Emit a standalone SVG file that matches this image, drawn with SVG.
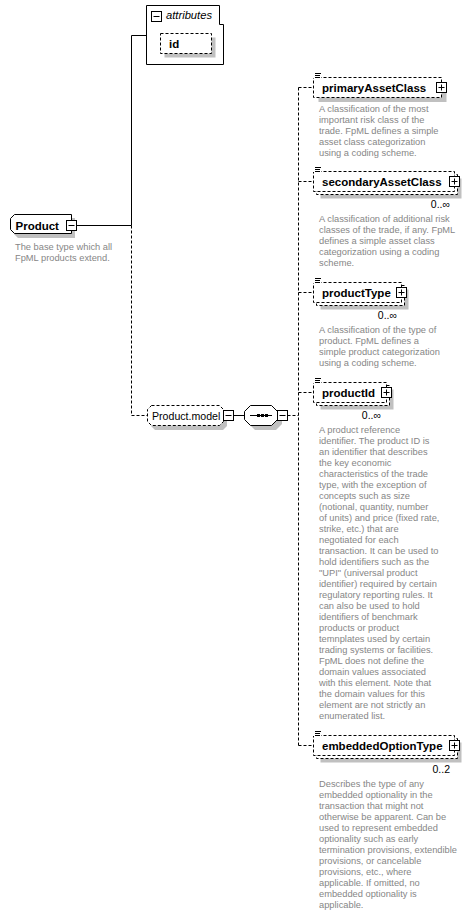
<svg xmlns="http://www.w3.org/2000/svg" width="473" height="916" viewBox="0 0 473 916">
<style>
.bg{fill:#fff}
.box{fill:#fff;stroke:#000;stroke-width:1}
.dash{stroke-dasharray:3,2}
.shadow{fill:#c0c0c0;stroke:none}
.ln{stroke:#000;stroke-width:1;fill:none}
.t{font-family:"Liberation Sans",Arial,sans-serif;fill:#000}
.title{font-weight:bold;font-size:11.5px}
.reg{font-size:10.6px}
.ital{font-style:italic;font-size:11.2px}
.card{font-size:10.5px}
.desc{font-size:9.3px;fill:#868686}
</style>
<defs>
<g id="plus"><rect class="box" x="0.5" y="0.5" width="10" height="10"/><path class="ln" d="M2.5,5.5H8.5M5.5,2.5V8.5"/></g>
<g id="minus"><rect class="box" x="0.5" y="0.5" width="10" height="10"/><path class="ln" d="M2.5,5.5H8.5"/></g>
<g id="typeicon"><rect class="bg" x="0" y="0" width="8" height="6"/><path class="ln" d="M2,1.5H8M2,3.5H7M2,5.5H7"/></g>
</defs>
<rect class="bg" x="0" y="0" width="473" height="916"/>

<g id="connectors">
<path class="ln" d="M76.5,225.5H131.5V35.5H146.5"/>
<path class="ln dash" d="M131.5,225.5V415.5H147.5"/>
<path class="ln" d="M233.5,415.5H244.5"/>
<path class="ln dash" d="M287.5,415.5H298.5"/>
<path class="ln dash" d="M298.5,87.5V745.5"/>
<path class="ln dash" d="M298.5,87.5H313.5M298.5,181.5H313.5M298.5,292.5H313.5M298.5,392.5H313.5M298.5,745.5H313.5"/>
</g>

<g id="Product">
<path class="shadow" d="M18,218H75V238H18L14,234V222Z"/>
<path class="box" d="M14.5,214.5H71.5V233.5H14.5L10.5,229.5V218.5Z"/>
<text class="t title" x="15.5" y="229.5">Product</text>
<use href="#minus" x="66" y="220"/>
<text class="t desc" x="15" y="250">The base type which all</text>
<text class="t desc" x="15" y="261">FpML products extend.</text>
</g>

<g id="attributes">
<path class="box" d="M146.5,5.5H219.5V24.5H223.5V64.5H146.5Z"/>
<use href="#minus" x="151" y="11"/>
<text class="t ital" x="166" y="18.5">attributes</text>
<g id="id">
<rect class="shadow" x="164.5" y="37.5" width="51" height="20"/>
<rect class="box dash" x="160.5" y="33.5" width="51" height="20"/>
<text class="t title" x="169" y="47.5">id</text>
</g>
</g>

<g id="Product.model">
<path class="shadow" d="M155,410H223L227,414V426L223,430H155L151,426V414Z"/>
<path class="box dash" d="M151.5,405.5H219.5L223.5,409.5V421.5L219.5,425.5H151.5L147.5,421.5V409.5Z"/>
<text class="t reg" x="152" y="419.5">Product.model</text>
<use href="#minus" x="223" y="410"/>
</g>

<g id="sequence">
<path class="shadow" d="M255,410H276L282,416V424L276,430H255L249,424V416Z"/>
<path class="box" d="M250.5,405.5H271.5L277.5,411.5V419.5L271.5,425.5H250.5L244.5,419.5V411.5Z"/>
<path class="ln" d="M250,415.5H272"/>
<rect x="257" y="414" width="3" height="3" fill="#000"/>
<rect x="261" y="414" width="3" height="3" fill="#000"/>
<rect x="265" y="414" width="3" height="3" fill="#000"/>
<use href="#minus" x="277" y="410"/>
</g>

<g id="primaryAssetClass">
<rect class="shadow" x="318.5" y="82" width="128" height="20"/>
<rect class="box dash" x="313.5" y="77.5" width="128" height="20"/>
<use href="#typeicon" x="313" y="72"/>
<text class="t title" x="322" y="92">primaryAssetClass</text>
<use href="#plus" x="436" y="82"/>
<text class="t desc" x="319" y="112">A classification of the most</text>
<text class="t desc" x="319" y="123">important risk class of the</text>
<text class="t desc" x="319" y="134">trade. FpML defines a simple</text>
<text class="t desc" x="319" y="145">asset class categorization</text>
<text class="t desc" x="319" y="156">using a coding scheme.</text>
</g>

<g id="secondaryAssetClass">
<rect class="shadow" x="320.5" y="178.5" width="141" height="20"/>
<rect class="box dash" x="316.5" y="174.5" width="141" height="20"/>
<rect class="box dash" x="313.5" y="171.5" width="141" height="20"/>
<use href="#typeicon" x="313" y="166"/>
<text class="t title" x="322" y="186">secondaryAssetClass</text>
<use href="#plus" x="449" y="176"/>
<text class="t card" x="450" y="208" text-anchor="end">0..∞</text>
<text class="t desc" x="319" y="222">A classification of additional risk</text>
<text class="t desc" x="319" y="233">classes of the trade, if any. FpML</text>
<text class="t desc" x="319" y="244">defines a simple asset class</text>
<text class="t desc" x="319" y="255">categorization using a coding</text>
<text class="t desc" x="319" y="266">scheme.</text>
</g>

<g id="productType">
<rect class="shadow" x="320.5" y="289.5" width="88" height="20"/>
<rect class="box dash" x="316.5" y="285.5" width="88" height="20"/>
<rect class="box dash" x="313.5" y="282.5" width="88" height="20"/>
<use href="#typeicon" x="313" y="277"/>
<text class="t title" x="322" y="297">productType</text>
<use href="#plus" x="396" y="287"/>
<text class="t card" x="397" y="319" text-anchor="end">0..∞</text>
<text class="t desc" x="319" y="333">A classification of the type of</text>
<text class="t desc" x="319" y="344">product. FpML defines a</text>
<text class="t desc" x="319" y="355">simple product categorization</text>
<text class="t desc" x="319" y="366">using a coding scheme.</text>
</g>

<g id="productId">
<rect class="shadow" x="320.5" y="389.5" width="73" height="20"/>
<rect class="box dash" x="316.5" y="385.5" width="73" height="20"/>
<rect class="box dash" x="313.5" y="382.5" width="73" height="20"/>
<use href="#typeicon" x="313" y="377"/>
<text class="t title" x="322" y="397">productId</text>
<use href="#plus" x="381" y="387"/>
<text class="t card" x="381" y="419" text-anchor="end">0..∞</text>
<text class="t desc" x="319" y="433">A product reference</text>
<text class="t desc" x="319" y="444">identifier. The product ID is</text>
<text class="t desc" x="319" y="455">an identifier that describes</text>
<text class="t desc" x="319" y="466">the key economic</text>
<text class="t desc" x="319" y="477">characteristics of the trade</text>
<text class="t desc" x="319" y="488">type, with the exception of</text>
<text class="t desc" x="319" y="499">concepts such as size</text>
<text class="t desc" x="319" y="510">(notional, quantity, number</text>
<text class="t desc" x="319" y="521">of units) and price (fixed rate,</text>
<text class="t desc" x="319" y="532">strike, etc.) that are</text>
<text class="t desc" x="319" y="543">negotiated for each</text>
<text class="t desc" x="319" y="554">transaction. It can be used to</text>
<text class="t desc" x="319" y="565">hold identifiers such as the</text>
<text class="t desc" x="319" y="576">"UPI" (universal product</text>
<text class="t desc" x="319" y="587">identifier) required by certain</text>
<text class="t desc" x="319" y="598">regulatory reporting rules. It</text>
<text class="t desc" x="319" y="609">can also be used to hold</text>
<text class="t desc" x="319" y="620">identifiers of benchmark</text>
<text class="t desc" x="319" y="631">products or product</text>
<text class="t desc" x="319" y="642">temnplates used by certain</text>
<text class="t desc" x="319" y="653">trading systems or facilities.</text>
<text class="t desc" x="319" y="664">FpML does not define the</text>
<text class="t desc" x="319" y="675">domain values associated</text>
<text class="t desc" x="319" y="686">with this element. Note that</text>
<text class="t desc" x="319" y="697">the domain values for this</text>
<text class="t desc" x="319" y="708">element are not strictly an</text>
<text class="t desc" x="319" y="719">enumerated list.</text>
</g>

<g id="embeddedOptionType">
<rect class="shadow" x="320.5" y="742.5" width="141" height="20"/>
<rect class="box dash" x="316.5" y="738.5" width="141" height="20"/>
<rect class="box dash" x="313.5" y="735.5" width="141" height="20"/>
<use href="#typeicon" x="313" y="730"/>
<text class="t title" x="322" y="750">embeddedOptionType</text>
<use href="#plus" x="449" y="740"/>
<text class="t card" x="450" y="773" text-anchor="end">0..2</text>
<text class="t desc" x="319" y="787">Describes the type of any</text>
<text class="t desc" x="319" y="798">embedded optionality in the</text>
<text class="t desc" x="319" y="809">transaction that might not</text>
<text class="t desc" x="319" y="820">otherwise be apparent. Can be</text>
<text class="t desc" x="319" y="831">used to represent embedded</text>
<text class="t desc" x="319" y="842">optionality such as early</text>
<text class="t desc" x="319" y="853">termination provisions, extendible</text>
<text class="t desc" x="319" y="864">provisions, or cancelable</text>
<text class="t desc" x="319" y="875">provisions, etc., where</text>
<text class="t desc" x="319" y="886">applicable. If omitted, no</text>
<text class="t desc" x="319" y="897">embedded optionality is</text>
<text class="t desc" x="319" y="908">applicable.</text>
</g>
</svg>
